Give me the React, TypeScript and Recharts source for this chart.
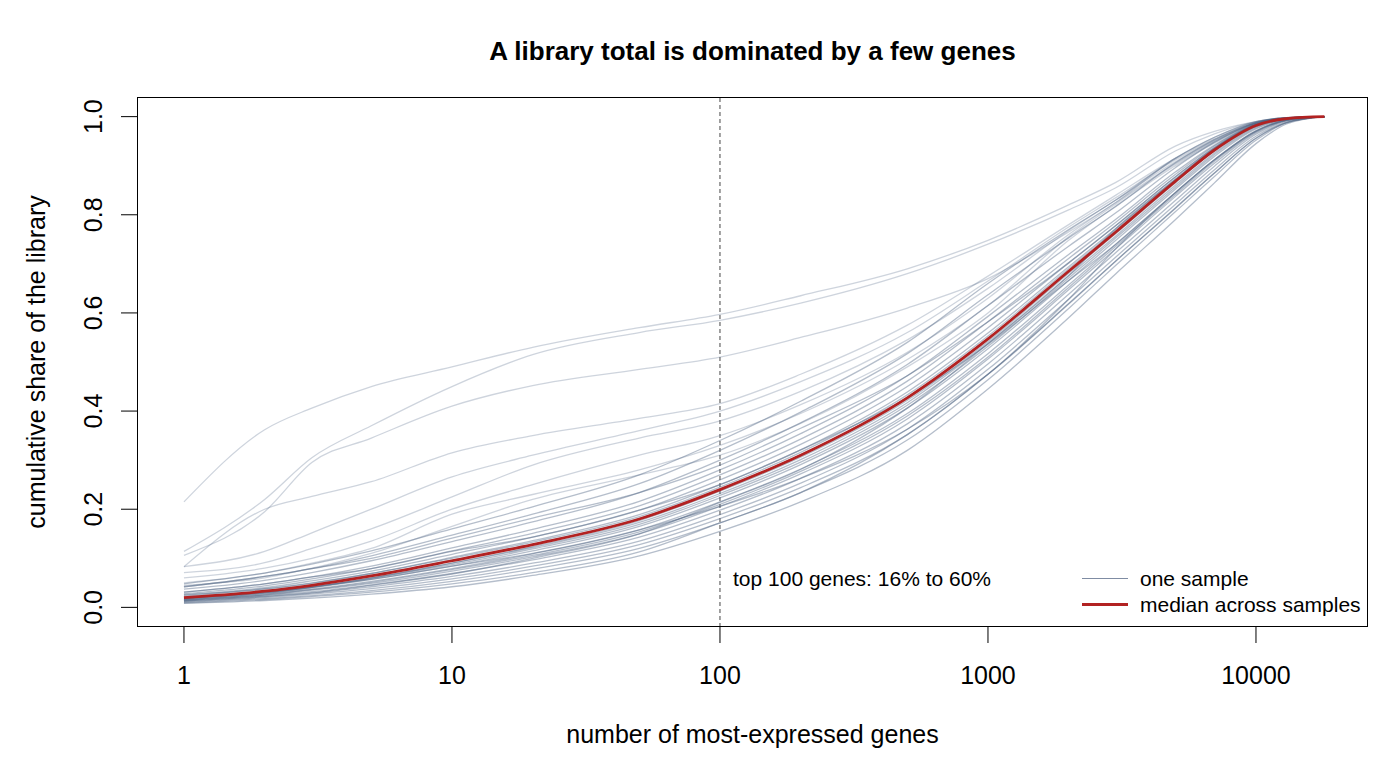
import React from 'react';
import { LineChart, Line, XAxis, YAxis, ReferenceLine } from 'recharts';

// number of most-expressed genes at which the curves were read
const genes = [1, 2, 3, 5, 10, 20, 50, 100, 200, 500, 1000, 2000, 3000, 5000, 7000, 10000, 13000, 18000];

const median = [0.020, 0.033, 0.045, 0.064, 0.095, 0.128, 0.18, 0.24, 0.31, 0.427, 0.547, 0.685, 0.765, 0.868, 0.932, 0.982, 0.996, 1];

// outlying samples
const sA = [0.215, 0.362, 0.406, 0.45, 0.49, 0.53, 0.57, 0.597, 0.635, 0.69, 0.748, 0.82, 0.866, 0.94, 0.97, 0.99, 0.998, 1];
const sB = [0.114, 0.22, 0.305, 0.37, 0.45, 0.515, 0.56, 0.585, 0.62, 0.68, 0.74, 0.81, 0.855, 0.93, 0.965, 0.99, 0.998, 1];
const sC = [0.106, 0.195, 0.295, 0.345, 0.41, 0.452, 0.485, 0.51, 0.55, 0.61, 0.67, 0.765, 0.825, 0.915, 0.958, 0.989, 0.997, 1];
const sD = [0.083, 0.2, 0.226, 0.256, 0.315, 0.35, 0.385, 0.415, 0.475, 0.575, 0.675, 0.78, 0.84, 0.915, 0.955, 0.988, 0.997, 1];
const sE = [0.083, 0.114, 0.152, 0.2, 0.266, 0.31, 0.36, 0.4, 0.46, 0.56, 0.665, 0.775, 0.835, 0.912, 0.953, 0.988, 0.997, 1];
const sF = [0.071, 0.091, 0.12, 0.16, 0.225, 0.29, 0.345, 0.38, 0.44, 0.545, 0.65, 0.768, 0.83, 0.908, 0.951, 0.987, 0.997, 1];
const sG = [0.06, 0.08, 0.1, 0.135, 0.2, 0.25, 0.31, 0.35, 0.413, 0.52, 0.63, 0.76, 0.825, 0.905, 0.95, 0.987, 0.997, 1];
const sH = [0.05, 0.07, 0.09, 0.12, 0.19, 0.23, 0.28, 0.33, 0.395, 0.505, 0.615, 0.755, 0.822, 0.903, 0.948, 0.987, 0.997, 1];
const sI = [0.045, 0.06, 0.08, 0.11, 0.165, 0.22, 0.27, 0.31, 0.375, 0.49, 0.6, 0.748, 0.818, 0.9, 0.946, 0.986, 0.997, 1];

// the main band of samples, lowest to highest
const c01 = [0.008, 0.014, 0.019, 0.027, 0.042, 0.065, 0.105, 0.155, 0.215, 0.32, 0.445, 0.59, 0.68, 0.79, 0.865, 0.945, 0.985, 1];
const c02 = [0.010, 0.018, 0.024, 0.034, 0.053, 0.078, 0.12, 0.172, 0.234, 0.341, 0.464, 0.609, 0.697, 0.806, 0.878, 0.952, 0.987, 1];
const c03 = [0.012, 0.020, 0.027, 0.038, 0.058, 0.084, 0.128, 0.181, 0.244, 0.352, 0.475, 0.619, 0.706, 0.814, 0.885, 0.956, 0.988, 1];
const c04 = [0.013, 0.022, 0.029, 0.042, 0.063, 0.090, 0.135, 0.189, 0.253, 0.363, 0.485, 0.628, 0.714, 0.821, 0.892, 0.96, 0.989, 1];
const c05 = [0.014, 0.024, 0.032, 0.046, 0.069, 0.097, 0.143, 0.198, 0.263, 0.374, 0.496, 0.638, 0.723, 0.829, 0.899, 0.964, 0.991, 1];
const c06 = [0.015, 0.025, 0.035, 0.049, 0.074, 0.103, 0.15, 0.206, 0.272, 0.384, 0.506, 0.647, 0.731, 0.837, 0.905, 0.967, 0.992, 1];
const c07 = [0.016, 0.027, 0.037, 0.053, 0.079, 0.109, 0.158, 0.215, 0.282, 0.395, 0.517, 0.657, 0.74, 0.845, 0.912, 0.971, 0.993, 1];
const c08 = [0.018, 0.029, 0.040, 0.057, 0.084, 0.115, 0.165, 0.223, 0.291, 0.406, 0.527, 0.666, 0.748, 0.852, 0.919, 0.975, 0.994, 1];
const c09 = [0.019, 0.031, 0.042, 0.060, 0.090, 0.122, 0.173, 0.232, 0.301, 0.417, 0.538, 0.676, 0.757, 0.86, 0.926, 0.979, 0.995, 1];
const c10 = [0.021, 0.034, 0.046, 0.065, 0.096, 0.129, 0.181, 0.241, 0.311, 0.428, 0.548, 0.686, 0.766, 0.869, 0.933, 0.982, 0.996, 1];
const c11 = [0.023, 0.037, 0.049, 0.069, 0.102, 0.136, 0.189, 0.25, 0.321, 0.439, 0.559, 0.694, 0.772, 0.873, 0.935, 0.983, 0.996, 1];
const c12 = [0.026, 0.040, 0.054, 0.074, 0.108, 0.143, 0.198, 0.26, 0.332, 0.45, 0.57, 0.702, 0.778, 0.877, 0.937, 0.984, 0.996, 1];
const c13 = [0.028, 0.044, 0.058, 0.079, 0.115, 0.151, 0.207, 0.27, 0.343, 0.461, 0.582, 0.711, 0.785, 0.882, 0.94, 0.985, 0.997, 1];
const c14 = [0.031, 0.048, 0.062, 0.084, 0.121, 0.159, 0.216, 0.28, 0.354, 0.472, 0.593, 0.719, 0.791, 0.887, 0.942, 0.985, 0.997, 1];
const c15 = [0.037, 0.055, 0.071, 0.095, 0.134, 0.174, 0.234, 0.3, 0.376, 0.495, 0.615, 0.736, 0.804, 0.896, 0.948, 0.987, 0.997, 1];
const c16 = [0.042, 0.063, 0.079, 0.105, 0.147, 0.19, 0.252, 0.32, 0.398, 0.517, 0.637, 0.753, 0.817, 0.906, 0.953, 0.988, 0.998, 1];
const c17 = [0.048, 0.07, 0.088, 0.115, 0.16, 0.205, 0.27, 0.34, 0.42, 0.54, 0.66, 0.77, 0.83, 0.915, 0.958, 0.99, 0.998, 1];
// band samples that change rank along the curve
const c18 = [0.013, 0.022, 0.030, 0.045, 0.068, 0.100, 0.15, 0.214, 0.281, 0.406, 0.537, 0.676, 0.772, 0.872, 0.935, 0.983, 0.996, 1];
const c19 = [0.031, 0.048, 0.062, 0.079, 0.114, 0.143, 0.198, 0.25, 0.321, 0.427, 0.536, 0.666, 0.74, 0.845, 0.912, 0.97, 0.993, 1];
const c20 = [0.019, 0.031, 0.042, 0.057, 0.084, 0.110, 0.158, 0.206, 0.263, 0.363, 0.475, 0.618, 0.706, 0.813, 0.885, 0.956, 0.988, 1];
const c21 = [0.042, 0.063, 0.079, 0.100, 0.141, 0.182, 0.234, 0.29, 0.365, 0.472, 0.582, 0.702, 0.778, 0.877, 0.937, 0.984, 0.996, 1];
const c22 = [0.009, 0.016, 0.022, 0.031, 0.048, 0.071, 0.113, 0.172, 0.234, 0.352, 0.475, 0.628, 0.731, 0.845, 0.912, 0.971, 0.993, 1];
// extra samples in the crowded part of the band
const c23 = [0.016, 0.026, 0.036, 0.051, 0.077, 0.106, 0.154, 0.21, 0.277, 0.39, 0.51, 0.652, 0.736, 0.841, 0.909, 0.969, 0.993, 1];
const c24 = [0.018, 0.030, 0.041, 0.059, 0.087, 0.119, 0.169, 0.228, 0.296, 0.412, 0.532, 0.671, 0.753, 0.856, 0.923, 0.977, 0.995, 1];
const c25 = [0.017, 0.029, 0.041, 0.060, 0.09, 0.124, 0.177, 0.237, 0.306, 0.422, 0.542, 0.681, 0.762, 0.865, 0.93, 0.98, 0.996, 1];
const c26 = [0.025, 0.038, 0.05, 0.069, 0.1, 0.133, 0.185, 0.245, 0.316, 0.433, 0.553, 0.69, 0.769, 0.871, 0.934, 0.983, 0.996, 1];

const outliers = [sA, sB, sC, sD, sE, sF, sG, sH, sI];
const band = [
  c01, c02, c03, c04, c05, c06, c07, c08, c09, c10, c11, c12, c13,
  c14, c15, c16, c17, c18, c19, c20, c21, c22, c23, c24, c25, c26,
];
const samples = [...outliers, ...band];

const xTicks = [1, 10, 100, 1000, 10000];
const yTicks = [0, 0.2, 0.4, 0.6, 0.8, 1];

const rows = genes.map((n, i) => {
  const row: Record<string, number> = { n, median: median[i] };
  samples.forEach((s, j) => { row['s' + j] = s[i]; });
  return row;
});

const font = '"Liberation Sans", Arial, Helvetica, sans-serif';
const sampleColor = '#4f6584';

const XTick = (props: any) => {
  const { x, y, payload } = props;
  return (
    <text x={x} y={y + 30} textAnchor="middle" dominantBaseline="central"
      fontFamily={font} fontSize={25} fill="#000">
      {String(payload.value)}
    </text>
  );
};

const YTick = (props: any) => {
  const { x, y, payload } = props;
  const tx = x - 26;
  return (
    <text x={tx} y={y} textAnchor="middle" dominantBaseline="central"
      transform={`rotate(-90, ${tx}, ${y})`}
      fontFamily={font} fontSize={25} fill="#000">
      {payload.value.toFixed(1)}
    </text>
  );
};

const abs = (extra: React.CSSProperties): React.CSSProperties => ({
  position: 'absolute', fontFamily: font, color: '#000', whiteSpace: 'nowrap', lineHeight: 1, ...extra,
});

export default function App() {
  return (
    <div style={{ position: 'absolute', left: 0, top: 0, width: 1400, height: 760, background: '#fff' }}>
      <LineChart width={1400} height={760} data={rows}
        margin={{ top: 97, right: 32, bottom: 83, left: 90 }}>
        <XAxis dataKey="n" type="number" scale="log" domain={[0.668, 26180]} allowDataOverflow
          ticks={xTicks} tick={<XTick />} axisLine={false}
          tickLine={{ stroke: '#000' }} tickSize={16} height={50} interval={0} />
        <YAxis type="number" domain={[-0.04, 1.04]} allowDataOverflow ticks={yTicks}
          tick={<YTick />} axisLine={false} tickLine={{ stroke: '#000' }} tickSize={16} width={47} interval={0} />
        <ReferenceLine x={100} stroke="#444" strokeDasharray="4 3" strokeWidth={1} />
        {samples.map((_, j) => (
          <Line key={j} dataKey={'s' + j} type="monotone" stroke={sampleColor}
            strokeOpacity={j < outliers.length ? 0.28 : 0.42}
            strokeWidth={1.3} dot={false} activeDot={false} isAnimationActive={false} />
        ))}
        <Line dataKey="median" type="monotone" stroke="#b22222" strokeWidth={2.8}
          dot={false} activeDot={false} isAnimationActive={false} />
      </LineChart>

      <div style={{ position: 'absolute', left: 137, top: 97, width: 1231, height: 530,
        border: '1px solid #000', boxSizing: 'border-box', pointerEvents: 'none' }} />

      <div style={abs({ left: 137, width: 1231, top: 38, textAlign: 'center', fontSize: 26, fontWeight: 'bold' })}>
        A library total is dominated by a few genes
      </div>
      <div style={abs({ left: 137, width: 1231, top: 722, textAlign: 'center', fontSize: 25 })}>
        number of most-expressed genes
      </div>
      <div style={abs({ left: 36, top: 362, transform: 'translate(-50%, -50%) rotate(-90deg)', fontSize: 25 })}>
        cumulative share of the library
      </div>
      <div style={abs({ left: 733, top: 568, fontSize: 21 })}>
        top 100 genes: 16% to 60%
      </div>

      <div style={abs({ left: 1082, top: 578, width: 46, height: 1, background: '#7f8ca3' })} />
      <div style={abs({ left: 1140, top: 568, fontSize: 21 })}>one sample</div>
      <div style={abs({ left: 1082, top: 603, width: 46, height: 3, background: '#b22222' })} />
      <div style={abs({ left: 1140, top: 594, fontSize: 21 })}>median across samples</div>
    </div>
  );
}
